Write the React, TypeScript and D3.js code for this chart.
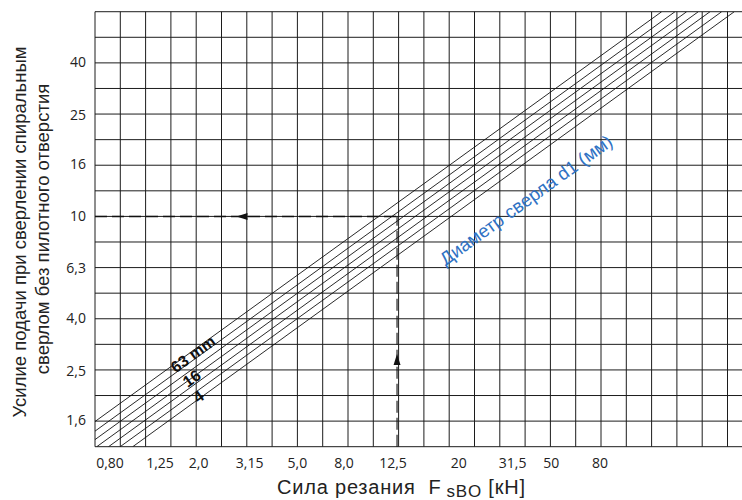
import React from "react";
import * as d3 from "d3";

// ---- data ----
const xTickValues = [0.8, 1.25, 2.0, 3.15, 5.0, 8.0, 12.5, 20, 31.5, 50, 80];
const xTickLabels = ["0,80", "1,25", "2,0", "3,15", "5,0", "8,0", "12,5", "20", "31,5", "50", "80"];
const yTickValues = [1.6, 2.5, 4.0, 6.3, 10, 16, 25, 40];
const yTickLabels = ["1,6", "2,5", "4,0", "6,3", "10", "16", "25", "40"];

const xMin = 0.8;
const xMax = 318.5;
const yMin = 1.2589;
const yMax = 63.1;

// drill diameter lines (start / end points)
const diameters = [63, 40, 25, 16, 10, 6.3, 4];
const lineStartF = [0.8, 0.8, 0.8, 0.813, 0.905, 1.006, 1.128];
const lineStartP = [1.579, 1.448, 1.342, 1.2589, 1.2589, 1.2589, 1.2589];
const lineEndF = [139, 156.9, 174.5, 194, 215.8, 240, 269.2];
const lineEndP = [63.1, 63.1, 63.1, 63.1, 63.1, 63.1, 63.1];

// worked example
const exampleF = 12.5;
const exampleP = 10;
const arrowF = 2.9;
const arrowP = 2.9;

// annotation anchors (data units)
const lineLabels = ["63  mm", "16", "4"];
const lineLabelF = [1.952, 1.929, 2.048];
const lineLabelP = [2.899, 2.329, 1.974];
const blueLabel = "Диаметр сверла d1 (мм)";
const blueLabelF = 40.4;
const blueLabelP = 11.59;

// ---- layout / style ----
const W = 742;
const H = 500;
const left = 95;
const top = 11.7;
const bottom = 446.7;
const pxPerDecadeX = 253;
const right = left + pxPerDecadeX * Math.log10(xMax / xMin);
const xLabelNudge = [15, 16, 3, 4, 1, -4, -4, 10, 14, 2, -1];

export default function App() {
  const x = d3.scaleLog().domain([xMin, xMax]).range([left, right]);
  const y = d3.scaleLog().domain([yMin, yMax]).range([bottom, top]);

  const xGrid = d3.range(0, 27).map((k) => xMin * Math.pow(10, k / 10));
  const yGrid = d3.range(1, 19).map((k) => Math.pow(10, k / 10));

  const line = d3
    .line<[number, number]>()
    .x((d) => x(d[0]))
    .y((d) => y(d[1]));

  const angle =
    (Math.atan2(y(lineEndP[0]) - y(lineStartP[0]), x(lineEndF[0]) - x(lineStartF[0])) * 180) /
    Math.PI;

  const ax = x(arrowF);
  const ay = y(arrowP);
  const ex = x(exampleF);
  const ey = y(exampleP);

  return (
    <svg
      width={W}
      height={H}
      style={{ position: "absolute", left: 0, top: 0, background: "#fff" }}
      fontFamily="'Liberation Sans', Arial, sans-serif"
    >
      <defs>
        <clipPath id="plot">
          <rect x={left} y={top} width={right - left} height={bottom - top} />
        </clipPath>
      </defs>

      {/* grid */}
      <g stroke="#1c1c1c" strokeWidth={1}>
        {xGrid.map((v, i) => (
          <line key={"gx" + i} x1={x(v)} x2={x(v)} y1={top} y2={bottom} />
        ))}
        {yGrid.map((v, i) => (
          <line key={"gy" + i} x1={left} x2={right} y1={y(v)} y2={y(v)} />
        ))}
      </g>

      {/* diameter lines */}
      <g clipPath="url(#plot)" stroke="#111" strokeWidth={0.9} fill="none">
        {diameters.map((d, i) => (
          <path
            key={"d" + d}
            d={
              line([
                [lineStartF[i], lineStartP[i]],
                [lineEndF[i], lineEndP[i]],
              ]) as string
            }
          />
        ))}
      </g>

      {/* worked example dashed lines */}
      <g stroke="#111" fill="none" strokeDasharray="12,5">
        <line x1={left} x2={ex} y1={ey} y2={ey} strokeWidth={1.5} />
        <line x1={ex} x2={ex} y1={bottom} y2={ey} strokeWidth={1.1} />
      </g>
      <g fill="#111">
        <path d={`M${ax},${ey} L${ax + 11},${ey - 3.5} L${ax + 11},${ey + 3.5} Z`} />
        <path d={`M${ex},${ay} L${ex - 3.5},${ay + 11} L${ex + 3.5},${ay + 11} Z`} />
      </g>

      {/* line labels */}
      <g fontWeight="bold" fontSize={16} fill="#111" textAnchor="middle" style={{ whiteSpace: "pre" }}>
        {lineLabels.map((t, i) => (
          <text
            key={"ll" + i}
            transform={`translate(${x(lineLabelF[i])},${y(lineLabelP[i])}) rotate(${angle})`}
            dy="0.35em"
          >
            {t}
          </text>
        ))}
      </g>
      <text
        transform={`translate(${x(blueLabelF)},${y(blueLabelP)}) rotate(${angle})`}
        textAnchor="middle"
        dy="0.35em"
        fontSize={18.5}
        fill="#2f72c4"
      >
        {blueLabel}
      </text>

      {/* tick labels */}
      <g fontFamily="'Open Sans', sans-serif" fontSize={14} fill="#222">
        {yTickValues.map((v, i) => (
          <text key={"yt" + i} x={86} y={y(v)} dy="0.36em" textAnchor="end">
            {yTickLabels[i]}
          </text>
        ))}
        {xTickValues.map((v, i) => (
          <text key={"xt" + i} x={x(v) + xLabelNudge[i]} y={468} textAnchor="middle">
            {xTickLabels[i]}
          </text>
        ))}
      </g>

      {/* axis titles */}
      <text x={277} y={494} fontSize={20} letterSpacing={0.8} fill="#222" style={{ whiteSpace: "pre" }}>
        {"Сила резания  F"}
        <tspan fontSize={17} dx={5} dy={3}>
          sBO
        </tspan>
        <tspan dy={-3}>{" [кН]"}</tspan>
      </text>
      <g fontSize={18.5} fill="#222" textAnchor="middle">
        <text transform="translate(26,232) rotate(-90)">Усилие подачи при сверлении спиральным</text>
        <text transform="translate(48.5,229) rotate(-90)">сверлом без пилотного отверстия</text>
      </g>
    </svg>
  );
}
